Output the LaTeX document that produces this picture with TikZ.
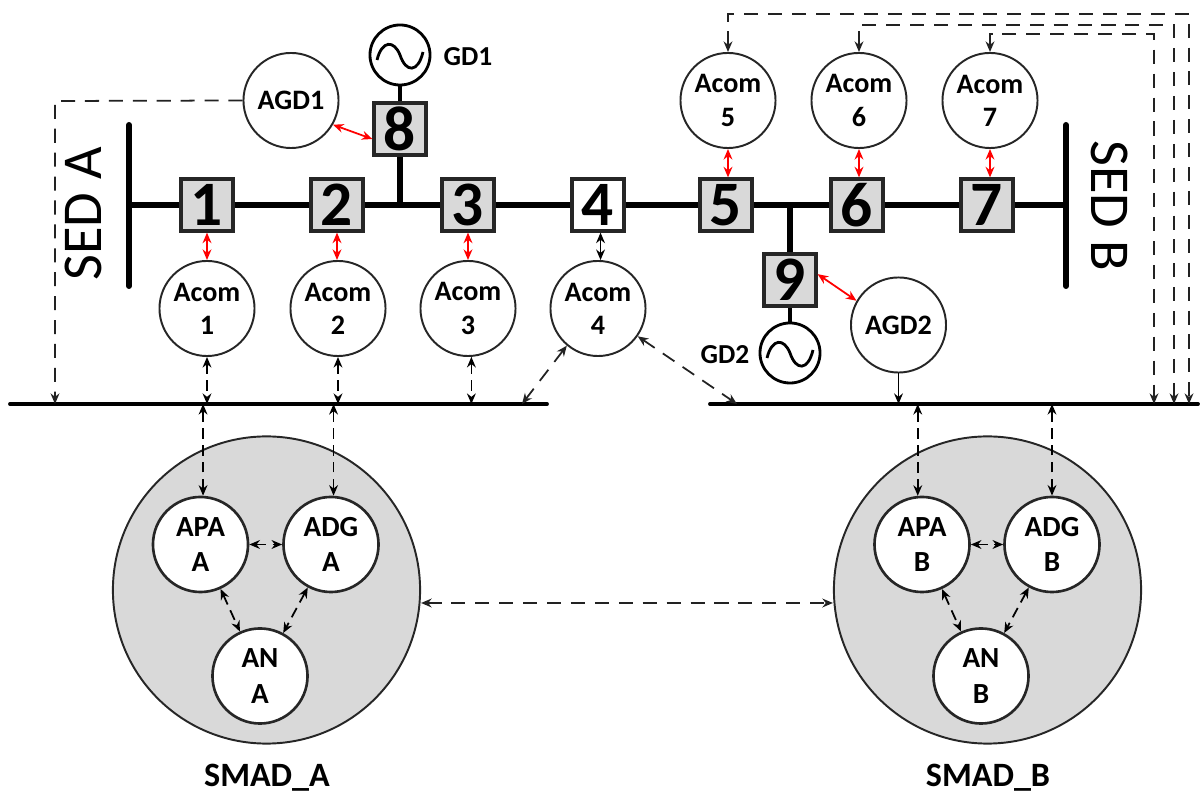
\documentclass[tikz,border=0pt]{standalone}
\usetikzlibrary{arrows.meta}
\usepackage{fontspec}
\setmainfont{Carlito}
\definecolor{boxgray}{HTML}{D9D9D9}
\definecolor{linegray}{HTML}{222222}
\tikzset{
  tip/.style={>={Stealth[length=3pt,width=2.5pt]}},
  agent/.style={circle, draw=black!85, line width=0.55pt, fill=white, minimum size=0.95cm, inner sep=0pt, align=center, font=\fontsize{8}{9.4}\selectfont\bfseries},
  inner agent/.style={agent, line width=0.75pt, font=\fontsize{8.3}{10}\selectfont\bfseries},
  smad/.style={circle, draw=black!85, line width=0.55pt, fill=boxgray, minimum size=3.07cm, inner sep=0pt},
  busbox/.style={rectangle, draw=black!85, line width=0.9pt, fill=boxgray, minimum size=0.52cm, inner sep=0pt, font=\fontsize{18}{18}\selectfont\bfseries},
  gen/.style={circle, draw=black, line width=0.8pt, fill=white, minimum size=0.6cm, inner sep=0pt},
  lbl/.style={font=\fontsize{7.8}{9}\selectfont\bfseries, inner sep=0pt},
  sedlbl/.style={font=\fontsize{16}{18}\selectfont, inner sep=0pt},
  powerline/.style={line width=1.7pt, line cap=round},
  netline/.style={line width=1.1pt, line cap=round},
  redlink/.style={<->, tip, red, line width=0.5pt},
  longdash/.style={line width=0.5pt, draw=linegray, dash pattern=on 4pt off 2.8pt, tip},
  shortdash/.style={<->, line width=0.5pt, draw=black, dash pattern=on 3pt off 1.8pt, tip},
}
\begin{document}
\begin{tikzpicture}[x=0.01cm, y=-0.01cm]
  \useasboundingbox (0,0) rectangle (1200,792);

  % bars and network lines
  \coordinate (barAt) at (129,125);
  \coordinate (barAb) at (129,286);
  \coordinate (barAm) at (129,205);
  \coordinate (barBt) at (1066,125);
  \coordinate (barBb) at (1066,286);
  \coordinate (barBm) at (1066,205);
  \coordinate (netAl) at (10,404);
  \coordinate (netAr) at (547,404);
  \coordinate (netBl) at (710,404);
  \coordinate (netBr) at (1198,404);
  \draw[powerline] (barAt) -- (barAb);
  \draw[powerline] (barBt) -- (barBb);
  \draw[netline] (netAl) -- (netAr);
  \draw[netline] (netBl) -- (netBr);

  % boxes on the main line
  \foreach \n/\x in {1/207, 2/337, 3/468, 5/726, 6/857, 7/987}
    \node[busbox] (box\n) at (\x,205) {\n};
  \node[busbox, fill=white] (box4) at (598,205) {4};
  \node[busbox] (box8) at (400,129) {8};
  \node[busbox] (box9) at (790,280) {9};

  \draw[powerline, line cap=butt] (barAm) -- (box1);
  \foreach \a/\b in {1/2, 2/3, 3/4, 4/5, 5/6, 6/7}
    \draw[powerline, line cap=butt] (box\a) -- (box\b);
  \draw[powerline, line cap=butt] (box7) -- (barBm);
  \draw[powerline, line cap=butt] (box8) -- (box8 |- barAm);
  \draw[powerline, line cap=butt] (box9) -- (box9 |- barAm);

  % generators
  \node[gen] (gd1) at (400,55) {};
  \node[gen] (gd2) at (790,353) {};
  \draw[line width=1.1pt] (gd1) -- (box8);
  \draw[line width=1.1pt] (gd2) -- (box9);
  \foreach \g in {gd1, gd2}
    \draw[line width=0.8pt] ([shift={(-23,5)}]\g.center) .. controls +(5,-20) and +(-6,-15) .. (\g.center)
      .. controls +(6,18) and +(-5,21) .. ([shift={(23,-3)}]\g.center);
  \node[lbl] (gd1lbl) at (468,57) {GD1};
  \node[lbl] (gd2lbl) at (725,355) {GD2};

  % comm agents
  \foreach \n/\x in {1/207, 2/338, 3/468, 4/598}
    \node[agent] (acom\n) at (\x,308.5) {Acom\\\n};
  \foreach \n/\x in {5/728, 6/859, 7/990}
    \node[agent] (acom\n) at (\x,100.5) {Acom\\\n};
  \node[agent] (agd1) at (291,100.5) {AGD1};
  \node[agent] (agd2) at (898.5,325) {AGD2};

  % red links
  \foreach \n in {1, 2, 3}
    \draw[redlink] (box\n.south) -- (box\n.south |- acom\n.north);
  \foreach \n in {5, 6, 7}
    \draw[redlink] (acom\n.south) -- (acom\n.south |- box\n.north);
  \draw[redlink] (agd1.-30) -- (box8.-160);
  \draw[redlink] (box9.12) -- (agd2.150);
  \draw[<->, tip, line width=0.45pt] (acom4.87 |- box4.south) -- (acom4.87);

  % dashed links to the network lines
  \draw[longdash, ->] (agd1.west) -- (55,101) -- (55,404);
  \draw[shortdash] (acom1.south) -- (acom1.south |- netAl);
  \draw[shortdash] (acom2.south) -- (acom2.south |- netAl);
  \draw[shortdash] (acom3.-86) -- (acom3.-86 |- netAl);
  \draw[longdash, <->] (acom4.-130) -- (522,404);
  \draw[longdash, <->] (acom4.-35) -- (737,404);
  \draw[->, tip, line width=0.5pt, dash pattern=on 7pt off 1.5pt] (agd2.south) -- (agd2.south |- netBl);
  \draw[longdash, <->] (acom5.north) -- (728,14) -- (1189,14) -- (1189,404);
  \draw[longdash, <->] (acom6.north) -- (859,25) -- (1174,25) -- (1174,404);
  \draw[longdash, <->] (acom7.north) -- (990,34) -- (1154,34) -- (1154,404);

  % SMAD A
  \node[smad] (smadA) at (266.5,590) {};
  \node[inner agent] (apaA) at (200.5,544.5) {APA\\A};
  \node[inner agent] (adgA) at (331,544.5) {ADG\\A};
  \node[inner agent] (anA) at (260,676) {AN\\A};
  \node[font=\fontsize{9.7}{11}\selectfont\bfseries, inner sep=0pt] (smadAlbl) at (267,778) {SMAD\_A};

  % SMAD B
  \node[smad] (smadB) at (987.5,590) {};
  \node[inner agent] (apaB) at (922,544.5) {APA\\B};
  \node[inner agent] (adgB) at (1052,544.5) {ADG\\B};
  \node[inner agent] (anB) at (981,676) {AN\\B};
  \node[font=\fontsize{9.7}{11}\selectfont\bfseries, inner sep=0pt] (smadBlbl) at (988,778) {SMAD\_B};

  % links inside and between the SMADs
  \foreach \s in {A, B} {
    \draw[shortdash] (apa\s) -- (adg\s);
    \draw[shortdash] (apa\s) -- (an\s);
    \draw[shortdash] (adg\s) -- (an\s);
  }
  \draw[longdash, <->] (smadA.east |- 0,603) -- (smadB.west |- 0,603);
  \draw[shortdash] (apaA.87) -- (apaA.87 |- netAl);
  \draw[shortdash] (adgA.87) -- (adgA.87 |- netAl);
  \draw[shortdash] (apaB.95) -- (apaB.95 |- netBl);
  \draw[shortdash] (adgB.90) -- (adgB.90 |- netBl);

  % side labels
  \node[sedlbl, rotate=90] (sedA) at (83,214) {SED A};
  \node[sedlbl, rotate=-90] (sedB) at (1110,206) {SED B};
\end{tikzpicture}
\end{document}
